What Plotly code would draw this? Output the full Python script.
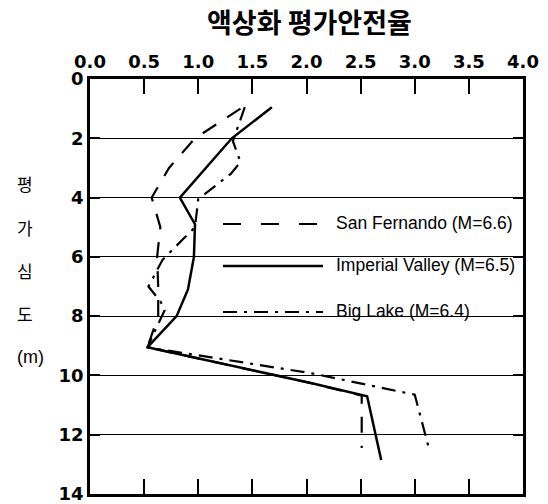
import plotly.graph_objects as go

# ---- data ----
x_ticks = [0.0, 0.5, 1.0, 1.5, 2.0, 2.5, 3.0, 3.5, 4.0]
y_ticks = [0, 2, 4, 6, 8, 10, 12, 14]

series_names = ["San Fernando (M=6.6)", "Imperial Valley (M=6.5)", "Big Lake (M=6.4)"]

sf_depth = [1.0, 2.0, 3.0, 4.0, 5.0, 6.0, 7.0, 8.0, 9.05, 10.25, 10.68, 12.45]
sf_fs = [1.39, 0.97, 0.73, 0.57, 0.65, 0.62, 0.63, 0.63, 0.53, 2.03, 2.51, 2.51]

iv_depth = [0.95, 2.0, 4.0, 4.9, 6.0, 7.1, 8.0, 9.05, 10.25, 10.7, 12.85]
iv_fs = [1.68, 1.31, 0.83, 0.97, 0.96, 0.905, 0.80, 0.53, 2.03, 2.56, 2.69]

bl_depth = [0.95, 2.1, 2.8, 3.2, 4.05, 5.0, 5.4, 6.1, 7.0, 7.5, 7.8, 9.05, 9.93, 10.65, 12.45]
bl_fs = [1.43, 1.32, 1.39, 1.30, 1.00, 0.97, 0.86, 0.67, 0.54, 0.65, 0.69, 0.53, 2.05, 3.00, 3.13]

title_text = "액상화 평가안전율"
ytitle_chars = ["평", "가", "심", "도", "(m)"]

# ---- layout constants ----
W, H = 548, 504
L, R, T, B = 90, 25, 79, 10
PW, PH = W - L - R, H - T - B


def px(xp):
    return (xp - L) / PW


def py(yp):
    return 1 - (yp - T) / PH


SF_DASH = "16px,13px"
BL_DASH = "14px,7px,3px,7px"

fig = go.Figure()
fig.add_trace(go.Scatter(x=sf_fs, y=sf_depth, mode="lines", name=series_names[0],
                         line=dict(color="black", width=2.2, dash=SF_DASH)))
fig.add_trace(go.Scatter(x=iv_fs, y=iv_depth, mode="lines", name=series_names[1],
                         line=dict(color="black", width=2.5)))
fig.add_trace(go.Scatter(x=bl_fs, y=bl_depth, mode="lines", name=series_names[2],
                         line=dict(color="black", width=2.2, dash=BL_DASH)))

tickfont = dict(family="DejaVu Sans", size=18, color="black", weight="bold")

fig.update_layout(
    width=W, height=H,
    margin=dict(l=L, r=R, t=T, b=B),
    paper_bgcolor="white", plot_bgcolor="white",
    showlegend=False,
    xaxis=dict(range=[0, 4], side="top", tickmode="array", tickvals=x_ticks,
               ticktext=[f"{v:.1f}" for v in x_ticks], ticks="inside", ticklen=15,
               tickwidth=2, tickcolor="black", showline=True, linewidth=3,
               linecolor="black", mirror="ticks", showgrid=False, zeroline=False,
               tickfont=tickfont, ticklabelstandoff=1, automargin=False,
               ticklabeloverflow="allow"),
    yaxis=dict(range=[14, 0], tickmode="array", tickvals=y_ticks,
               ticktext=[str(v) for v in y_ticks], ticks="inside", ticklen=10,
               tickwidth=2, tickcolor="black", showline=True, linewidth=2.5,
               linecolor="black", mirror="ticks", showgrid=True, gridcolor="black",
               gridwidth=1, zeroline=False, tickfont=tickfont, ticklabelstandoff=0,
               automargin=False, ticklabeloverflow="allow"),
)

# title
fig.add_annotation(text=title_text, xref="paper", yref="paper", x=px(309), y=py(22),
                   showarrow=False, xanchor="center", yanchor="middle",
                   font=dict(family="Noto Sans CJK KR", size=27, color="black", weight="bold"))

# vertical y-axis title
ytitle_pos = [(25, 183), (25, 227), (25, 270), (25, 313), (30, 357)]
for ch, (xp, yp) in zip(ytitle_chars, ytitle_pos):
    fig.add_annotation(text=ch, xref="paper", yref="paper", x=px(xp), y=py(yp),
                       showarrow=False, xanchor="center", yanchor="middle",
                       font=dict(family="Noto Sans CJK KR" if ch != "(m)" else "Liberation Sans",
                                 size=17 if ch != "(m)" else 18, color="black"))

# manual legend
leg = [
    (series_names[0], 223, 223, 318, "18px,20px", 2),
    (series_names[1], 265, 223, 323, "solid", 2.5),
    (series_names[2], 311, 223, 323, BL_DASH, 2),
]
for name, yp, x0, x1, dash, wd in leg:
    fig.add_shape(type="line", xref="paper", yref="paper", x0=px(x0), x1=px(x1),
                  y0=py(yp + 1), y1=py(yp + 1), line=dict(color="black", width=wd, dash=dash))
    fig.add_annotation(text=name, xref="paper", yref="paper", x=px(334), y=py(yp),
                       showarrow=False, xanchor="left", yanchor="middle",
                       font=dict(family="Liberation Sans", size=17.5, color="black"))

fig.write_html("out.html", config={"displayModeBar": False},
               post_script="document.body.style.margin='0';document.body.style.padding='0';")
